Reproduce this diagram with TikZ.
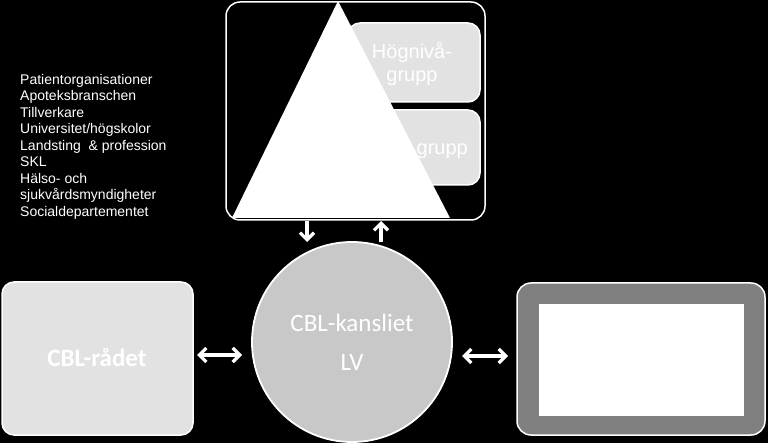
\documentclass[tikz,border=0pt]{standalone}
\usepackage{fontspec}
\setmainfont{Liberation Sans}
\newfontfamily\calfont{Carlito}
\usetikzlibrary{arrows.meta}
\definecolor{boxgray}{RGB}{226,226,226}
\definecolor{circgray}{RGB}{200,200,200}
\definecolor{darkgray}{RGB}{128,128,128}
\tikzset{
  gbox/.style={draw=white, line width=1.5pt, rounded corners=12pt, fill=boxgray},
  wtext/.style={text=white, inner sep=0pt},
  tip/.tip={Straight Barb[length=7pt,width=14pt,line width=3.2pt]},
  conn/.style={draw=white, line width=3.2pt, tip-tip},
  oneway/.style={draw=white, line width=3.2pt, -tip},
}
\begin{document}
\begin{tikzpicture}[x=1pt,y=-1pt]
\fill[black] (0,0) rectangle (768,443);
\useasboundingbox (0,0) rectangle (768,443);

% top frame
\draw[draw=white, line width=1.5pt, rounded corners=14pt, fill=black] (226,2) rectangle (485,220);
\node[gbox, minimum width=132pt, minimum height=79pt, inner sep=0pt] (hog) at (414,62.5) {};
\node[gbox, minimum width=132pt, minimum height=75pt, inner sep=0pt] (grp) at (414,147.5) {};
\node[wtext, font=\fontsize{20}{23}\selectfont, align=center] (hogt) at (412,64) {Högnivå-\\grupp};
\node[wtext, font=\fontsize{20}{23}\selectfont, anchor=east] (grpt) at (468,151) {grupp};

% triangle
\coordinate (tA) at (338,1);
\coordinate (tB) at (232,218);
\coordinate (tC) at (450,218);
\fill[white] (tA) -- (tB) -- (tC) -- cycle;

% list text
\node[wtext, anchor=north west, align=left, font=\fontsize{14}{16.5}\selectfont] (list) at (20,74)
{Patientorganisationer\\Apoteksbranschen\\Tillverkare\\Universitet/högskolor\\Landsting\ \ \& profession\\SKL\\Hälso- och\\sjukvårdsmyndigheter\\Socialdepartementet};

% circle
\node[circle, draw=white, line width=1.8pt, fill=circgray, minimum size=200pt, inner sep=0pt] (kans) at (352,342) {};
\node[wtext, font=\calfont\fontsize{25}{30}\selectfont] (kt1) at (352,323) {CBL-kansliet};
\node[wtext, font=\calfont\fontsize{25}{30}\selectfont] (kt2) at (352,362) {LV};

% left box
\node[gbox, minimum width=191pt, minimum height=153pt, inner sep=0pt] (rad) at (97.5,358.5) {};
\node[wtext, font=\calfont\bfseries\fontsize{25}{30}\selectfont] (radt) at (97,358) {CBL-rådet};

% right box
\node[draw=white, line width=1.5pt, rounded corners=14pt, fill=darkgray, minimum width=248pt, minimum height=152pt, inner sep=0pt] (rb) at (641,359) {};
\node[fill=white, minimum width=205pt, minimum height=112pt, inner sep=0pt] (rbi) at (641.5,360) {};

% arrows
\coordinate (d1) at (307,221);
\coordinate (d2) at (307,242);
\coordinate (u1) at (381,242);
\coordinate (u2) at (381,221);
\draw[oneway] (d1) -- (d2);
\draw[oneway] (u1) -- (u2);
\coordinate (l1) at (197,355);
\coordinate (l2) at (242,355);
\draw[conn] (l1) -- (l2);
\coordinate (r1) at (462,356);
\coordinate (r2) at (508,356);
\draw[conn] (r1) -- (r2);
\end{tikzpicture}
\end{document}
